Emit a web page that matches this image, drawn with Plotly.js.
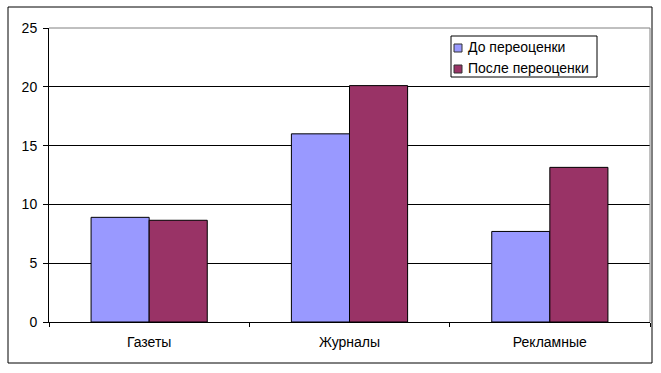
<!DOCTYPE html>
<html>
<head>
<meta charset="utf-8">
<script src="https://cdn.plot.ly/plotly-3.0.1.min.js"></script>
<style>
html,body{margin:0;padding:0;background:#fff;}
#chart{width:661px;height:373px;}
</style>
</head>
<body>
<div id="chart"></div>
<script>
const categories = ["Газеты", "Журналы", "Рекламные"];
const seriesNames = ["До переоценки", "После переоценки"];
const seriesColors = ["#9999FF", "#993366"];
const beforeValues = [8.9, 16.0, 7.7];
const afterValues = [8.65, 20.1, 13.15];
const yTicks = [0, 5, 10, 15, 20, 25];

const font = "Liberation Sans, Arial, sans-serif";

// plot-area geometry in pixels (for paper-coordinate conversions)
const L = 49, R = 650, T = 28, B = 322;
const px = x => (x - L) / (R - L);
const py = y => (B - y) / (B - T);

const traces = [
  {
    type: "bar", name: seriesNames[0], x: categories, y: beforeValues,
    marker: {color: seriesColors[0], line: {color: "#000000", width: 1}},
    hoverinfo: "none", showlegend: false
  },
  {
    type: "bar", name: seriesNames[1], x: categories, y: afterValues,
    marker: {color: seriesColors[1], line: {color: "#000000", width: 1}},
    hoverinfo: "none", showlegend: false
  }
];

const legendShapes = [
  {type: "rect", xref: "paper", yref: "paper",
   x0: px(451), x1: px(597), y0: py(77), y1: py(36),
   line: {color: "#000000", width: 1}, fillcolor: "#ffffff", layer: "above"}
];
const legendRows = [47, 68];
seriesNames.forEach((n, i) => {
  legendShapes.push({type: "rect", xref: "paper", yref: "paper",
    x0: px(454), x1: px(462), y0: py(legendRows[i] + 5), y1: py(legendRows[i] - 3),
    line: {color: "#333333", width: 1}, fillcolor: seriesColors[i], layer: "above"});
});
const legendAnns = seriesNames.map((n, i) => ({
  text: n, xref: "paper", yref: "paper", x: px(466), y: py(legendRows[i]),
  xanchor: "left", yanchor: "middle", showarrow: false,
  font: {family: font, size: 14, color: "#000000"}
}));

const layout = {
  width: 661, height: 373,
  margin: {l: L, r: 661 - R, t: T, b: 373 - B, pad: 0},
  paper_bgcolor: "#ffffff",
  plot_bgcolor: "#ffffff",
  font: {family: font, size: 14, color: "#000000"},
  barmode: "group",
  bargap: 0.42,
  bargroupgap: 0,
  showlegend: false,
  xaxis: {
    type: "category",
    showgrid: false,
    showline: true, linecolor: "#000000", linewidth: 1,
    ticks: "outside", ticklen: 4, tickcolor: "#000000", tickwidth: 1,
    tickson: "boundaries",
    ticklabelstandoff: 7,
    tickfont: {family: font, size: 14, color: "#000000"},
    fixedrange: true,
    zeroline: false
  },
  yaxis: {
    range: [0, 25],
    tickmode: "array", tickvals: yTicks, ticktext: yTicks.map(String),
    showgrid: true, gridcolor: "#000000", gridwidth: 1,
    showline: true, linecolor: "#000000", linewidth: 1,
    ticks: "outside", ticklen: 5, tickcolor: "#000000", tickwidth: 1,
    ticklabelstandoff: 3,
    tickfont: {family: font, size: 14, color: "#000000"},
    zeroline: false,
    fixedrange: true
  },
  shapes: [
    {type: "line", xref: "paper", yref: "paper", x0: 0, x1: 1, y0: 1, y1: 1,
     line: {color: "#808080", width: 1}, layer: "above"},
    {type: "line", xref: "paper", yref: "paper", x0: 1, x1: 1, y0: 0, y1: 1,
     line: {color: "#808080", width: 1}, layer: "above"},
    {type: "rect", xref: "paper", yref: "paper",
     x0: px(8), x1: px(652), y0: py(363), y1: py(7),
     line: {color: "#000000", width: 1}, fillcolor: "rgba(0,0,0,0)", layer: "above"}
  ].concat(legendShapes),
  annotations: legendAnns
};

Plotly.newPlot("chart", traces, layout, {displayModeBar: false, staticPlot: true});
</script>
</body>
</html>
